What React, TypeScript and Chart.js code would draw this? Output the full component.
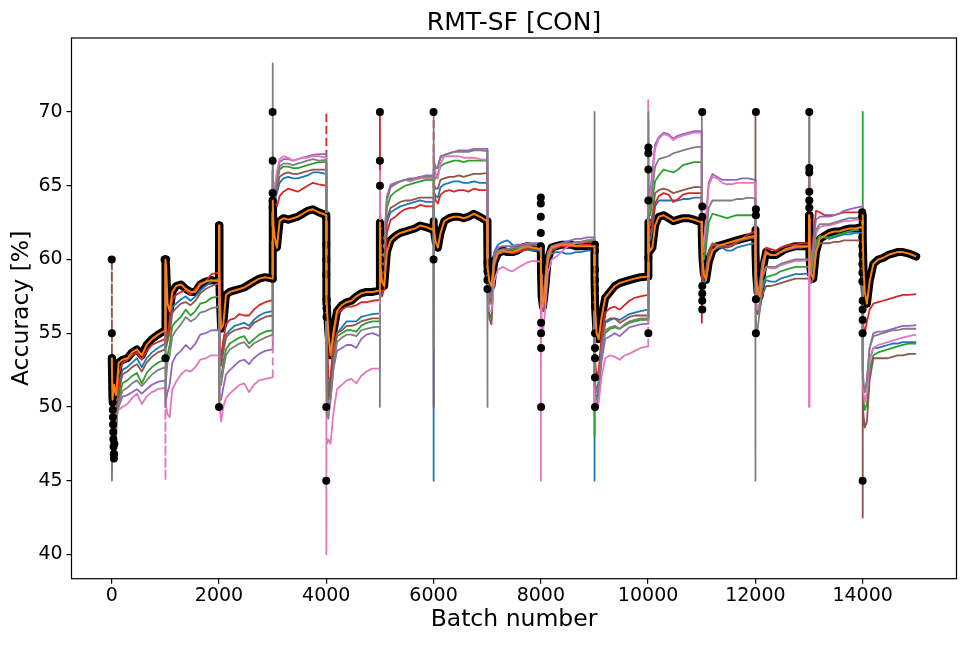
import React, { useEffect, useRef } from "react";
import { Chart, registerables } from "chart.js";

Chart.register(...registerables);

// ---------- data ----------
const TASK_STARTS = [0, 1000, 2000, 3000, 4000, 5000, 6000, 7000, 8000, 9000, 10000, 11000, 12000, 13000, 14000];
const OFFSETS = [0, 4, 15, 40, 80, 130, 200, 290, 380, 470, 560, 650, 750, 860, 999];
const X_TICKS = [0, 2000, 4000, 6000, 8000, 10000, 12000, 14000];
const Y_TICKS = [40, 45, 50, 55, 60, 65, 70];

const meanAcc = [
  [53.3, 52.5, 50.5, 51.5, 50.8, 53.0, 53.2, 53.3, 53.7, 53.9, 53.5, 54.2, 54.6, 54.9, 55.2],
  [60, 60, 59.5, 57, 56.5, 57.8, 58.2, 58.3, 58.0, 57.8, 57.8, 58.3, 58.5, 58.6, 58.5],
  [62.3, 61, 58, 55.3, 55.6, 57.6, 57.8, 57.9, 58.0, 58.1, 58.3, 58.5, 58.7, 58.8, 58.7],
  [63.5, 64, 62.3, 61.5, 60.8, 62.6, 62.8, 62.7, 62.8, 62.9, 63.1, 63.3, 63.4, 63.2, 63.0],
  [57.0, 57.5, 56.5, 55, 53.5, 55.0, 56.5, 56.9, 57.1, 57.2, 57.5, 57.7, 57.8, 57.8, 57.9],
  [62.5, 61, 59.5, 58.5, 58.2, 60.5, 61.3, 61.6, 61.8, 61.9, 62.0, 62.1, 62.3, 62.2, 62.0],
  [62.6, 62.4, 61.8, 61.2, 60.8, 61.8, 62.6, 62.8, 62.9, 62.9, 62.8, 62.9, 63.1, 62.9, 62.6],
  [61.5, 60.5, 59.5, 58.5, 58.2, 59.8, 60.4, 60.6, 60.5, 60.5, 60.6, 60.8, 60.9, 60.8, 60.7],
  [60.8, 59, 57.5, 56.8, 58.0, 60.0, 60.8, 60.9, 61.0, 61.0, 61.0, 60.9, 60.9, 60.9, 60.9],
  [60.6, 58.5, 56.5, 55, 54.6, 56.0, 57.4, 57.8, 58.2, 58.4, 58.5, 58.6, 58.7, 58.8, 58.85],
  [62.5, 61.5, 61, 60.6, 60.8, 62.3, 62.9, 63.0, 62.8, 62.6, 62.7, 62.8, 62.8, 62.7, 62.5],
  [62.5, 61.5, 60, 59, 58.6, 59.8, 60.6, 60.9, 61.0, 61.1, 61.2, 61.3, 61.4, 61.5, 61.6],
  [62, 60.5, 59, 57.8, 57.5, 59.2, 60.5, 60.3, 60.3, 60.5, 60.7, 60.8, 60.9, 60.9, 60.9],
  [63, 61.5, 60, 59, 58.7, 60.5, 61.4, 61.6, 61.8, 61.9, 61.9, 62.0, 62.1, 62.1, 62.2],
  [63, 61.5, 59.5, 57.8, 57.0, 58.5, 59.7, 60.0, 60.1, 60.3, 60.4, 60.5, 60.5, 60.4, 60.2],
];

const blueAcc = [
  [52, 50.5, 49, 49.5, 49, 51.5, 52.5, 52.7, 53.0, 53.3, 52.7, 53.3, 53.7, 54.0, 54.3],
  [58, 56, 54.5, 55, 55.5, 56.8, 57.0, 57.3, 57.5, 57.2, 57.5, 57.9, 58.2, 58.5, 58.7],
  [58.5, 55, 53.5, 53, 54, 54.9, 55.2, 55.5, 55.6, 55.7, 55.5, 55.9, 56.2, 56.4, 56.5],
  [66, 64.5, 64.2, 64.0, 64.5, 65.2, 65.5, 65.6, 65.5, 65.5, 65.6, 65.7, 65.9, 65.9, 65.8],
  [57, 55, 53, 51, 52, 53.8, 55.0, 55.4, 55.8, 55.8, 55.8, 56.1, 56.2, 56.3, 56.35],
  [63, 61, 59.5, 58.5, 59, 62.5, 63.2, 63.4, 63.6, 63.7, 63.8, 63.9, 64.0, 63.9, 63.9],
  [45, 63.5, 64.5, 64.3, 64.2, 64.9, 65.1, 65.2, 65.3, 65.3, 65.2, 65.2, 65.3, 65.2, 65.2],
  [62, 60.5, 58.5, 57.5, 58, 60.5, 61.0, 61.2, 61.3, 61.0, 60.8, 60.8, 60.7, 60.6, 60.6],
  [61, 59, 57.5, 57, 58.5, 60.0, 60.4, 60.5, 60.5, 60.4, 60.4, 60.5, 60.5, 60.6, 60.6],
  [45, 53, 51.5, 51, 51.5, 54.0, 55.7, 55.9, 56.0, 55.9, 56.1, 56.3, 56.4, 56.5, 56.6],
  [64, 62.3, 61.5, 61.3, 62, 63.6, 64.0, 64.0, 64.0, 64.0, 64.0, 64.1, 64.1, 64.2, 64.2],
  [62, 59.5, 58.8, 58.4, 58.6, 60.0, 60.6, 60.8, 60.8, 60.6, 60.6, 60.8, 60.9, 61.0, 61.1],
  [60, 58.5, 57, 56.5, 56.8, 58.0, 58.6, 58.5, 58.5, 58.7, 58.8, 58.9, 59.0, 59.0, 59.05],
  [63, 60.5, 59.5, 59, 59.5, 61.0, 61.5, 61.5, 61.4, 61.5, 61.6, 61.7, 61.7, 61.8, 61.8],
  [55, 52.5, 51.5, 51.2, 51.6, 53.2, 54.0, 54.0, 54.1, 54.2, 54.3, 54.3, 54.4, 54.4, 54.4],
];

const greenAcc = [
  [51, 49.5, 48.5, 48.5, 49.2, 50.5, 51.6, 51.8, 52.1, 52.3, 51.6, 52.3, 52.7, 53.0, 53.2],
  [56, 54, 53, 53.5, 54.2, 55.5, 55.8, 56.1, 56.6, 56.2, 56.5, 57.0, 57.1, 57.4, 57.5],
  [57, 53, 52, 52, 53, 53.9, 54.3, 54.5, 54.7, 54.8, 54.3, 54.6, 54.9, 55.1, 55.2],
  [66, 65, 64.5, 64.5, 65.2, 66.1, 66.3, 66.3, 66.2, 66.2, 66.3, 66.4, 66.5, 66.6, 66.6],
  [56, 54, 52, 50.5, 51.3, 53.0, 54.8, 55.0, 55.2, 55.2, 55.1, 55.5, 55.7, 55.8, 55.8],
  [64, 62, 60.5, 59.5, 60.5, 63.5, 64.3, 64.6, 64.8, 65.0, 65.1, 65.2, 65.3, 65.4, 65.4],
  [65, 64.5, 65.5, 65.5, 65.8, 66.3, 66.5, 66.6, 66.7, 66.7, 66.6, 66.7, 66.7, 66.7, 66.7],
  [62.5, 60, 57.8, 56.3, 56.0, 59.8, 60.5, 60.6, 60.6, 60.7, 60.7, 60.8, 60.8, 60.8, 60.8],
  [61, 58.5, 57, 56.5, 58, 60.0, 60.6, 60.8, 60.9, 61.0, 61.0, 61.1, 61.1, 61.2, 61.2],
  [48, 52.5, 51, 50.5, 51.2, 53.5, 55.0, 55.3, 55.4, 55.3, 55.5, 55.7, 55.8, 55.9, 55.9],
  [66, 63.5, 63, 63, 64, 65.3, 65.7, 66.1, 66.0, 65.9, 66.1, 66.4, 66.5, 66.6, 66.6],
  [64, 61, 60.3, 60, 60.8, 62.5, 63.1, 63.0, 62.9, 62.8, 62.9, 63.0, 63.0, 63.0, 63.0],
  [60, 58, 57, 56.5, 57, 58.3, 58.8, 58.9, 59.0, 59.2, 59.3, 59.4, 59.5, 59.5, 59.5],
  [63, 60.5, 59.5, 59.3, 59.8, 61.2, 61.6, 61.5, 61.5, 61.6, 61.7, 61.8, 61.9, 62.0, 62.0],
  [70, 52, 50.5, 49.8, 50.2, 52.5, 53.5, 53.7, 53.8, 53.9, 54.0, 54.1, 54.2, 54.3, 54.3],
];

const redAcc = [
  [52.5, 51, 49, 48.5, 47.8, 52.2, 53.0, 53.2, 53.5, 53.7, 53.2, 53.8, 54.2, 54.4, 54.6],
  [60, 57, 55, 54.5, 56, 57.3, 57.6, 57.8, 57.9, 57.6, 58.0, 58.4, 58.5, 59.0, 59.1],
  [59, 56, 54, 53.5, 54.5, 55.6, 55.9, 56.0, 56.3, 56.2, 56.2, 56.6, 56.9, 57.1, 57.25],
  [65, 64, 64.2, 63.8, 63.6, 64.3, 64.6, 64.8, 64.7, 64.6, 64.8, 65.0, 65.2, 65.1, 65.0],
  [70, 57, 55, 52, 51.8, 54.5, 56.3, 56.6, 56.8, 56.8, 56.9, 57.1, 57.1, 57.2, 57.25],
  [70, 62, 59, 57.5, 58, 61.8, 62.7, 62.9, 63.2, 63.4, 63.5, 63.5, 63.7, 63.6, 63.6],
  [70, 63, 64.5, 64, 63.8, 64.4, 64.6, 64.7, 64.6, 64.7, 64.7, 64.6, 64.8, 64.7, 64.7],
  [62, 60, 58, 57, 57.5, 59.8, 60.4, 60.5, 60.5, 60.4, 60.5, 60.6, 60.7, 60.7, 60.7],
  [61, 58.5, 57, 56.5, 58.0, 60.0, 60.6, 60.8, 60.9, 60.9, 60.9, 60.9, 61.0, 61.0, 61.0],
  [59, 55, 53, 52, 52.5, 54.8, 56.4, 56.7, 56.8, 56.6, 56.9, 57.2, 57.4, 57.5, 57.6],
  [60, 62.5, 62, 61.8, 62.3, 63.8, 64.3, 64.5, 64.4, 63.9, 64.1, 64.4, 64.5, 64.5, 64.5],
  [55.7, 60, 59.5, 58.8, 59, 60.3, 60.9, 61.0, 60.9, 60.8, 60.9, 61.1, 61.4, 61.7, 61.9],
  [62, 60, 58.5, 57.5, 57.8, 59.8, 60.8, 60.7, 60.6, 60.8, 60.9, 61.0, 61.0, 61.1, 61.1],
  [66, 62, 60.5, 60, 61.5, 63.3, 63.2, 63.0, 63.0, 63.0, 63.1, 63.2, 63.2, 63.2, 63.2],
  [63, 58, 55.5, 55, 55.8, 56.6, 57.0, 57.1, 57.2, 57.3, 57.4, 57.5, 57.6, 57.6, 57.65],
];

const purpleAcc = [
  [50.5, 49, 48, 48.5, 49.5, 50, 50.7, 50.8, 51.0, 51.2, 50.9, 51.2, 51.5, 51.7, 51.8],
  [51, 50.5, 50.5, 51, 51.5, 53.0, 53.5, 53.8, 54.2, 53.9, 54.3, 54.9, 55.0, 55.2, 55.2],
  [55, 52, 50.5, 50.5, 51.3, 52.2, 52.5, 52.8, 53.1, 53.2, 52.9, 53.3, 53.6, 53.8, 53.9],
  [67, 65.5, 64.5, 64.8, 65.8, 66.6, 66.8, 66.8, 66.7, 66.8, 66.9, 67.0, 67.1, 67.15, 67.15],
  [55, 52.5, 51, 50, 50.5, 52.5, 53.8, 54.0, 54.2, 54.2, 54.0, 54.6, 54.9, 55.0, 54.8],
  [64, 62.5, 60.5, 59.5, 61, 64.0, 64.9, 65.1, 65.3, 65.4, 65.5, 65.5, 65.6, 65.7, 65.7],
  [66, 65.5, 66.5, 66.2, 66.2, 66.9, 67.1, 67.2, 67.3, 67.4, 67.4, 67.4, 67.5, 67.5, 67.5],
  [63, 61, 59, 57.5, 57.5, 60.4, 60.8, 60.9, 60.9, 60.9, 61.0, 61.0, 61.1, 61.1, 61.1],
  [61, 58.8, 57.2, 57, 58.6, 60.5, 60.9, 61.0, 61.1, 61.2, 61.3, 61.4, 61.4, 61.5, 61.5],
  [56, 52, 50.5, 50, 50.8, 53.0, 54.6, 54.8, 55.0, 54.8, 55.1, 55.4, 55.5, 55.6, 55.65],
  [69.5, 65, 64, 64.5, 66, 67.8, 68.3, 68.6, 68.5, 68.2, 68.4, 68.5, 68.6, 68.7, 68.7],
  [66, 62.5, 61, 61.3, 62.8, 65.2, 65.8, 65.6, 65.4, 65.4, 65.4, 65.4, 65.5, 65.5, 65.4],
  [62, 60, 58.5, 57.8, 58.3, 59.8, 60.4, 60.3, 60.3, 60.5, 60.6, 60.7, 60.8, 60.8, 60.9],
  [64, 61.5, 60.3, 60, 61, 62.7, 62.9, 62.9, 62.9, 63.0, 63.1, 63.3, 63.4, 63.5, 63.6],
  [56, 53, 51.5, 51, 51.8, 54.0, 55.0, 55.1, 55.1, 55.2, 55.3, 55.4, 55.5, 55.5, 55.55],
];

const brownAcc = [
  [60, 51.5, 48.5, 49, 49.5, 51, 52.2, 52.4, 52.7, 52.9, 52.4, 53.0, 53.4, 53.7, 53.9],
  [57, 55, 54, 54.5, 55, 56.4, 56.7, 57.0, 57.1, 56.9, 57.2, 57.7, 58.0, 58.2, 58.4],
  [58, 54.5, 53, 52.8, 53.7, 54.7, 55.0, 55.2, 55.3, 55.4, 55.3, 55.7, 55.9, 56.1, 56.2],
  [66, 64.8, 64.5, 64.2, 64.8, 65.6, 65.8, 65.9, 65.8, 65.8, 65.9, 66.0, 66.1, 66.1, 66.1],
  [56.5, 54.5, 52.5, 50.5, 51.5, 53.5, 55.0, 55.2, 55.5, 55.5, 55.6, 55.8, 55.9, 56.0, 56.0],
  [63.5, 61.5, 60, 59, 60, 62.8, 63.5, 63.7, 63.9, 64.0, 64.0, 64.1, 64.2, 64.2, 64.2],
  [50, 64, 65, 64.8, 64.8, 65.4, 65.5, 65.6, 65.6, 65.7, 65.6, 65.7, 65.8, 65.8, 65.85],
  [62.5, 60, 57.5, 56, 55.6, 59.5, 60.4, 60.5, 60.6, 60.6, 60.6, 60.7, 60.8, 60.8, 60.8],
  [61, 58.5, 57, 56.5, 58.2, 60.2, 60.7, 60.8, 61.0, 61.0, 61.0, 61.1, 61.1, 61.2, 61.2],
  [57, 53, 51.5, 51, 51.8, 54.0, 55.8, 56.0, 56.0, 55.7, 55.9, 56.1, 56.2, 56.2, 56.2],
  [65, 63, 62.5, 62.3, 63, 64.5, 64.7, 64.8, 64.7, 64.5, 64.6, 64.7, 64.8, 64.9, 64.9],
  [62, 60, 59.3, 59, 59.3, 60.6, 61.1, 61.0, 61.0, 60.9, 61.0, 61.2, 61.3, 61.4, 61.5],
  [70, 57.5, 56.5, 56.3, 56.5, 57.6, 58.2, 58.2, 58.3, 58.4, 58.5, 58.6, 58.7, 58.7, 58.7],
  [62, 59.5, 58.8, 58.4, 58.7, 60.5, 61.1, 61.1, 61.1, 61.2, 61.2, 61.3, 61.3, 61.3, 61.3],
  [42.5, 50.5, 49.5, 48.6, 49.0, 51.8, 53.3, 53.3, 53.3, 53.3, 53.4, 53.5, 53.5, 53.6, 53.6],
];

const pinkAcc = [
  [50, 49, 48.5, 49, 49.8, 49.8, 50.0, 50.2, 50.6, 50.9, 50.2, 50.7, 51.0, 51.2, 51.3],
  [45, 50.5, 50, 49.5, 49.3, 51.2, 51.7, 52.2, 52.5, 52.4, 52.7, 53.2, 53.3, 53.5, 53.5],
  [58.5, 53, 50, 49.0, 50, 50.6, 50.9, 51.2, 51.5, 51.6, 51.0, 51.5, 51.8, 51.9, 52.0],
  [64, 66, 65, 64.8, 66.0, 66.8, 67.0, 66.9, 66.7, 66.8, 66.9, 66.9, 67.0, 67.0, 66.9],
  [40, 48, 47.5, 47.8, 47.5, 49.5, 51.2, 51.5, 51.8, 51.9, 51.6, 52.1, 52.4, 52.6, 52.6],
  [66, 63, 61, 60, 61, 64.3, 65.1, 65.2, 65.3, 65.4, 65.3, 65.4, 65.5, 65.5, 65.5],
  [67, 67.5, 66.5, 65.8, 65.5, 66.5, 67.0, 67.0, 67.0, 67.0, 66.9, 66.9, 66.9, 66.8, 66.75],
  [62, 59.5, 57.5, 56.5, 56.5, 58.5, 59.3, 59.5, 59.3, 59.2, 59.4, 59.6, 59.8, 59.9, 59.85],
  [45, 57, 55.5, 55, 56.5, 59.0, 60.0, 60.2, 60.5, 60.8, 61.0, 61.1, 61.2, 61.3, 61.4],
  [54, 51, 50, 50, 50.3, 52.0, 53.3, 53.5, 53.4, 53.2, 53.5, 53.6, 53.8, 54.0, 54.1],
  [70.8, 64.5, 63.5, 64, 65.5, 67.5, 68.2, 68.5, 68.4, 68.1, 68.3, 68.4, 68.5, 68.6, 68.6],
  [65, 62, 60.5, 61, 62.5, 65.0, 65.6, 65.5, 65.2, 65.1, 65.1, 65.2, 65.2, 65.2, 65.2],
  [61, 59, 57, 56.6, 57, 58.8, 59.5, 59.4, 59.4, 59.6, 59.7, 59.8, 59.9, 59.9, 60.0],
  [50, 61, 60, 59.5, 60.5, 61.8, 62.2, 62.3, 62.3, 62.4, 62.5, 62.6, 62.6, 62.7, 62.7],
  [56, 52, 51, 50.3, 51, 53.2, 54.0, 54.2, 54.3, 54.4, 54.5, 54.6, 54.7, 54.8, 54.9],
];

const grayAcc = [
  [53, 45, 48, 47.5, 48.8, 50.2, 51.1, 51.3, 51.6, 51.8, 51.4, 51.8, 52.2, 52.5, 52.7],
  [60, 50, 52, 53, 53.5, 54.8, 55.2, 55.6, 56.1, 55.8, 56.0, 56.4, 56.5, 56.7, 56.8],
  [50, 52, 51.5, 51.5, 52.5, 53.5, 53.9, 54.1, 54.3, 54.4, 54.0, 54.3, 54.5, 54.7, 54.9],
  [73.3, 65, 64.3, 64.5, 65.3, 66.3, 66.5, 66.5, 66.4, 66.5, 66.6, 66.7, 66.8, 66.7, 66.75],
  [56, 52, 49.5, 49.2, 50.5, 52.5, 54.4, 54.7, 54.9, 54.9, 54.8, 55.2, 55.3, 55.4, 55.45],
  [50, 62, 60.5, 59.8, 61, 64.2, 65.0, 65.2, 65.3, 65.4, 65.4, 65.5, 65.6, 65.6, 65.6],
  [70, 54, 66.5, 66.2, 66.3, 67.0, 67.1, 67.2, 67.3, 67.3, 67.3, 67.3, 67.4, 67.4, 67.35],
  [50, 61, 59, 57, 57, 60.2, 60.6, 60.7, 60.7, 60.8, 60.8, 60.9, 61.0, 61.0, 60.9],
  [61, 58.5, 57, 57, 58.5, 60.3, 60.8, 60.9, 61.0, 61.1, 61.1, 61.2, 61.2, 61.3, 61.3],
  [70, 52.5, 51.5, 51, 51.5, 53.8, 55.2, 55.4, 55.5, 55.3, 55.6, 55.8, 55.9, 56.0, 56.0],
  [70, 64, 63.5, 63.5, 64.8, 66.3, 66.8, 66.9, 67.0, 67.2, 67.3, 67.4, 67.5, 67.6, 67.65],
  [70, 62, 60.5, 60.5, 61.5, 63.5, 64.0, 64.0, 64.0, 64.0, 64.0, 64.1, 64.1, 64.2, 64.15],
  [45, 57, 55.5, 55.2, 56.5, 58.8, 59.5, 59.5, 59.5, 59.7, 59.8, 59.9, 60.0, 60.0, 60.0],
  [70, 61, 60, 59.5, 60.5, 62.0, 62.4, 62.4, 62.4, 62.5, 62.6, 62.7, 62.8, 62.8, 62.9],
  [55, 52.5, 51.5, 51, 51.8, 54.0, 54.8, 54.9, 55.0, 55.1, 55.2, 55.2, 55.3, 55.3, 55.3],
];

// black markers at the task switches (batch, accuracy)
const spikeBatch = [
  0, 2, 4, 8, 10, 12, 14, 16, 18, 20, 22, 25, 28, 31, 34, 37, 40, 45, 50,
  985, 1000, 1015, 1000,
  2000, 2000, 2000, 2000, 2000, 2000, 2000, 2000,
  3000, 3000, 3000, 3000, 3000, 3010, 3010, 3000,
  3995, 4000, 4000, 4000, 4005, 4005, 4005, 4000, 4000,
  5000, 5000, 5000, 5005, 5005, 5005, 5005, 5005, 5005, 5005, 5005,
  6000, 6000,
  7005, 7005, 7005, 7005,
  8000, 8000, 8000, 8000, 8000, 8005, 8005, 8005, 8005,
  9010, 9010, 9010, 9010, 9010, 9010, 9010, 9010, 9010, 9010, 9010, 9010,
  10005, 10005, 10005, 10005, 10005, 10005,
  11010, 11010, 11010, 11010, 11010, 11010, 11010,
  12010, 12010, 12010, 12010, 12010,
  13005, 13005, 13005, 13005, 13005, 13005, 13005,
  13990, 13990, 13995, 13995, 13995, 13995, 13995, 13995, 13995, 14000, 14000, 14000, 14000, 14000,
];
const spikeAcc = [
  60, 55, 53.3, 52.8, 52.3, 51.8, 51.3, 50.8, 50.3, 49.8, 49.3, 48.8, 48.3, 47.8, 47.3, 46.8, 46.5, 46.8, 47.5,
  60, 60, 60, 53.3,
  62.3, 62.0, 61.6, 61.2, 60.8, 60.4, 60.0, 50,
  70, 66.7, 64.5, 64, 63.5, 62, 61.5, 58.7,
  62.9, 61, 60, 59, 57.3, 56.7, 56.1, 50, 45,
  70, 66.7, 65, 62.4, 61.8, 61.2, 60.6, 60, 59.4, 58.8, 58.2,
  70, 60,
  59.8, 59.2, 58.6, 58.0,
  64.2, 63.8, 62.9, 61.8, 60.9, 55.7, 55, 54, 50,
  61, 60.6, 59.3, 58.6, 58, 57.4, 56.8, 55, 54, 53.3, 52, 50,
  67.6, 67.2, 66.1, 64, 60.1, 55,
  70, 63.6, 62.9, 58.2, 57.7, 57.2, 56.6,
  70, 63.4, 63.0, 57.3, 55,
  70, 66.2, 65.9, 64.6, 64, 63.5, 63,
  63.2, 62.9, 62.1, 61.5, 60.9, 60.3, 59.7, 59.1, 58.5, 57.2, 56.6, 55.9, 55, 45,
];

// tasks whose switch is drawn dashed for a series
const dashedTasks: Record<string, number[]> = {
  brown: [0],
  pink: [1, 3, 8, 10],
  red: [4, 6, 14],
  gray: [5],
};

// ---------- helpers ----------
const FONT = "'DejaVu Sans', 'Liberation Sans', sans-serif";

function toPoints(segs: number[][]) {
  const pts: { x: number; y: number }[] = [];
  segs.forEach((seg, s) => {
    seg.forEach((v, k) => {
      pts.push({ x: TASK_STARTS[s] + OFFSETS[k], y: v });
    });
  });
  return pts;
}

function dashFor(name: string) {
  const tasks = dashedTasks[name] || [];
  const n = OFFSETS.length;
  return (ctx: any) => {
    const i0 = ctx.p0DataIndex;
    const i1 = ctx.p1DataIndex;
    let t = -1;
    if (i1 % n === 0) t = i1 / n;
    else if (i0 % n === 0) t = i0 / n;
    return tasks.includes(t) ? [8, 4] : undefined;
  };
}

const framePlugin = {
  id: "frame",
  afterDatasetsDraw(chart: any) {
    const { ctx, chartArea: a } = chart;
    ctx.save();
    ctx.strokeStyle = "#000";
    ctx.lineWidth = 1.2;
    ctx.strokeRect(a.left, a.top, a.right - a.left, a.bottom - a.top);
    ctx.restore();
  },
};

export default function App() {
  const ref = useRef<HTMLCanvasElement | null>(null);

  useEffect(() => {
    if (!ref.current) return;
    Chart.defaults.font.family = FONT;

    const line = (name: string, label: string, color: string, segs: number[][], order: number) => ({
      type: "line" as const,
      label,
      data: toPoints(segs),
      borderColor: color,
      backgroundColor: color,
      borderWidth: 1.8,
      pointRadius: 0,
      fill: false,
      tension: 0,
      borderJoinStyle: "round" as const,
      order,
      segment: { borderDash: dashFor(name) },
    });

    const spikes = spikeBatch.map((b, i) => ({ x: b, y: spikeAcc[i] }));

    const chart = new Chart(ref.current, {
      type: "line",
      data: {
        datasets: [
          {
            type: "line",
            label: "mean",
            data: toPoints(meanAcc),
            borderColor: "#ff7f0e",
            borderWidth: 2,
            pointRadius: 0,
            fill: false,
            tension: 0,
            borderJoinStyle: "round",
            order: 0,
          },
          {
            type: "line",
            label: "switch",
            data: spikes,
            showLine: false,
            pointRadius: 4,
            pointBackgroundColor: "#000",
            pointBorderWidth: 0,
            borderColor: "#000",
            order: 1,
          },
          line("gray", "gray", "#7f7f7f", grayAcc, 2),
          line("pink", "pink", "#e377c2", pinkAcc, 3),
          line("brown", "brown", "#8c564b", brownAcc, 4),
          line("purple", "purple", "#9467bd", purpleAcc, 5),
          line("red", "red", "#d62728", redAcc, 6),
          line("green", "green", "#2ca02c", greenAcc, 7),
          line("blue", "blue", "#1f77b4", blueAcc, 8),
          {
            type: "line",
            label: "raw",
            data: toPoints(meanAcc),
            borderColor: "#000",
            borderWidth: 8,
            pointRadius: 0,
            fill: false,
            tension: 0,
            borderJoinStyle: "round",
            borderCapStyle: "round",
            order: 9,
          },
        ] as any,
      },
      options: {
        animation: false,
        responsive: false,
        maintainAspectRatio: false,
        events: [],
        layout: { padding: { left: 0, right: 12.5, top: 0, bottom: 0 } },
        plugins: {
          legend: { display: false },
          tooltip: { enabled: false },
          title: {
            display: true,
            text: "RMT-SF [CON]",
            fullSize: false,
            color: "#000",
            font: { family: FONT, size: 25, weight: "normal" },
            padding: { top: 8, bottom: 0 },
          },
        },
        scales: {
          x: {
            type: "linear",
            min: -750,
            max: 15750,
            afterBuildTicks: (s: any) => {
              s.ticks = X_TICKS.map((v) => ({ value: v }));
            },
            afterFit: (s: any) => {
              s.height = 67.3;
            },
            ticks: {
              autoSkip: false,
              maxRotation: 0,
              color: "#000",
              padding: 1,
              font: { family: FONT, size: 19 },
              callback: (v: any) => String(v),
            },
            grid: { drawOnChartArea: false, drawTicks: true, tickLength: 5, color: "#000", lineWidth: 1.2 },
            border: { display: false },
            title: {
              display: true,
              text: "Batch number",
              color: "#000",
              font: { family: FONT, size: 23.5 },
              padding: { top: 0, bottom: 12 },
            },
          },
          y: {
            type: "linear",
            min: 38.35,
            max: 75.02,
            afterBuildTicks: (s: any) => {
              s.ticks = Y_TICKS.map((v) => ({ value: v }));
            },
            afterFit: (s: any) => {
              s.width = 71.5;
            },
            ticks: {
              color: "#000",
              padding: 3.8,
              font: { family: FONT, size: 19 },
              callback: (v: any) => String(v),
            },
            grid: { drawOnChartArea: false, drawTicks: true, tickLength: 5, color: "#000", lineWidth: 1.2 },
            border: { display: false },
            title: {
              display: true,
              text: "Accuracy [%]",
              color: "#000",
              font: { family: FONT, size: 23.5 },
              padding: { top: 8, bottom: 0 },
            },
          },
        },
      },
      plugins: [framePlugin],
    });

    return () => chart.destroy();
  }, []);

  return (
    <div style={{ position: "absolute", left: 0, top: 0, width: 969, height: 646, background: "#fff" }}>
      <canvas ref={ref} width={969} height={646} style={{ display: "block", width: 969, height: 646 }} />
    </div>
  );
}
